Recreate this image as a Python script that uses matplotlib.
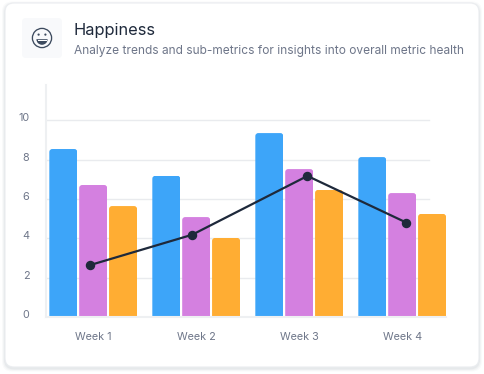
import matplotlib
matplotlib.use('Agg')
import matplotlib.pyplot as plt
from matplotlib.patches import FancyBboxPatch, Circle, Wedge, Rectangle
from matplotlib.transforms import ScaledTranslation

plt.rcParams['font.family'] = ['Inter', 'DejaVu Sans']

W, H = 484, 374

weeks = ['Week 1', 'Week 2', 'Week 3', 'Week 4']
blue_vals = [8.54, 7.18, 9.35, 8.13]
purple_vals = [6.71, 5.08, 7.52, 6.30]
orange_vals = [5.64, 4.02, 6.46, 5.24]
# the line markers sit a little off the group centres in the original
line_x = [-0.03, 0.96, 2.08, 3.04]
line_vals = [2.64, 4.18, 7.17, 4.80]
y_ticks = [0, 2, 4, 6, 8, 10]

BLUE = '#3DA5F9'
PURPLE = '#D480E0'
ORANGE = '#FFAD33'
DARK = '#1E293B'
GREY = '#6E7689'
GRID = '#E9EBEE'

fig = plt.figure(figsize=(W / 100, H / 100), dpi=100, facecolor='white')

# background layer in pixel coordinates, y going down
bg = fig.add_axes([0, 0, 1, 1])
bg.set_xlim(0, W)
bg.set_ylim(H, 0)
bg.axis('off')

# soft shadow under the card
for grow, alpha in [(3.0, 0.05), (2.0, 0.08), (1.0, 0.12)]:
    bg.add_patch(FancyBboxPatch((5 - grow, 3 + 1.5 - grow), 474 + 2 * grow, 364 + 2 * grow,
                                boxstyle='round,pad=0,rounding_size=10',
                                fc='#9CA3AF', ec='none', alpha=alpha))
bg.add_patch(FancyBboxPatch((5, 3), 474, 364, boxstyle='round,pad=0,rounding_size=9',
                            fc='white', ec='#EBEDF0', lw=0.8))

# icon
bg.add_patch(FancyBboxPatch((22, 18), 40, 40, boxstyle='round,pad=0,rounding_size=4',
                            fc='#F8F9FB', ec='none'))
bg.add_patch(Circle((42, 38), 9.6, fc='none', ec='#3C4A5E', lw=0.95))
bg.add_patch(Circle((38.6, 34.6), 1.1, fc='#3C4A5E', ec='none'))
bg.add_patch(Circle((45.4, 34.6), 1.1, fc='#3C4A5E', ec='none'))
bg.add_patch(Wedge((42, 39.2), 5.6, 0, 180, fc='#3C4A5E', ec='none'))
bg.add_patch(Rectangle((37.5, 39.6), 9, 1.6, fc='white', ec='none'))

fig.text(73.5 / W, 1 - 30.5 / H, 'Happiness', fontsize=11.8, color=DARK, va='center', ha='left')
fig.text(74 / W, 1 - 51 / H, 'Analyze trends and sub-metrics for insights into overall metric health',
         fontsize=8.58, color=GREY, va='center', ha='left')

# chart axes: x 46..446 px, y 85..317 px
left, right, top, bottom = 46, 446, 85, 317
ax = fig.add_axes([left / W, 1 - bottom / H, (right - left) / W, (bottom - top) / H])
ax.patch.set_alpha(0)
step = 103.0
center = 93.2
ax.set_xlim((left - center) / step, (right - center) / step)
ax.set_ylim(0, (bottom - top) / 19.67)

width = 0.272
offset = 0.29
for k, (vals, color) in enumerate([(blue_vals, BLUE), (purple_vals, PURPLE), (orange_vals, ORANGE)]):
    xs = [i + (k - 1) * offset for i in range(len(vals))]
    bars = ax.bar(xs, vals, width=width, color=color, zorder=2)
    for bar in bars:
        # rounded top corners: clip with a box that runs on below the baseline
        x0, h = bar.get_x(), bar.get_height()
        r = 3.0
        clip = FancyBboxPatch((x0, -2), width, h + 2,
                              boxstyle='round,pad=0,rounding_size=%f' % (r / step),
                              mutation_aspect=step / 19.67,
                              transform=ax.transData)
        bar.set_clip_path(clip)

ax.plot(line_x, line_vals, color=DARK, lw=1.6, marker='o', ms=5.8, zorder=4, clip_on=False)

# grid stops short of the last bars, at x = 429 px
for t in y_ticks[1:]:
    ax.plot([ax.get_xlim()[0], (429 - center) / step], [t, t], color=GRID, lw=1.0, zorder=1)

ax.set_xticks(range(len(weeks)), weeks)
ax.set_yticks(y_ticks)
ax.tick_params(axis='both', length=0, labelsize=7.8, labelcolor=GREY)
ax.tick_params(axis='x', pad=11)
ax.tick_params(axis='y', pad=12)
# y labels sit about 3 px above their grid lines
shift = ScaledTranslation(0, 3 / 100, fig.dpi_scale_trans)
for label in ax.get_yticklabels():
    label.set_transform(label.get_transform() + shift)
for name in ['top', 'right']:
    ax.spines[name].set_visible(False)
for name in ['left', 'bottom']:
    ax.spines[name].set_color('#EEF0F2')
    ax.spines[name].set_linewidth(1.5)

fig.savefig('out.png', dpi=100)
